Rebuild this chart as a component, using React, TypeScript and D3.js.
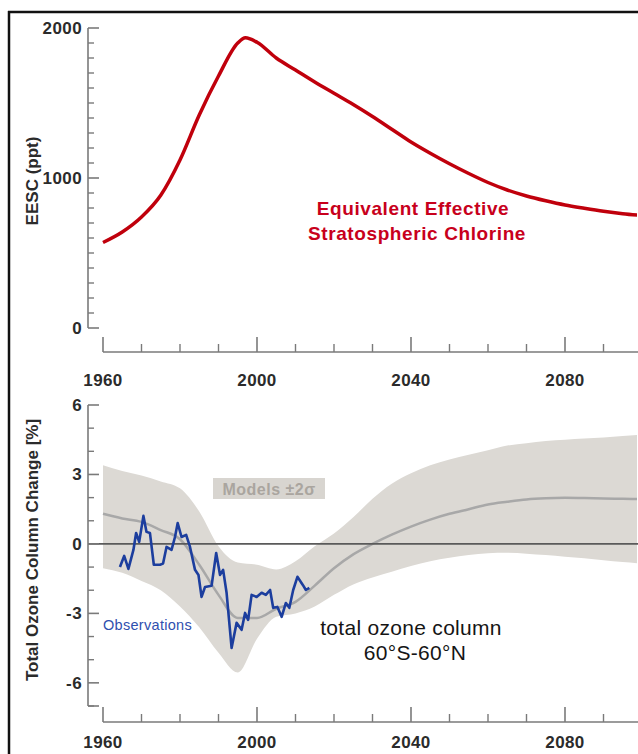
import * as d3 from "d3";

// EESC (ppt)
const eescYears = [1960, 1965, 1970, 1975, 1980, 1985, 1990, 1995, 1997, 2000, 2005, 2010, 2015, 2020, 2025, 2030, 2035, 2040, 2045, 2050, 2055, 2060, 2065, 2070, 2075, 2080, 2085, 2090, 2095, 2100];
const eescValues = [570, 640, 740, 885, 1120, 1420, 1680, 1900, 1935, 1905, 1800, 1720, 1640, 1565, 1490, 1410, 1325, 1240, 1165, 1095, 1030, 970, 920, 880, 848, 820, 798, 778, 762, 750];

// model mean and ±2σ envelope (%)
const modelYears = [1960, 1965, 1970, 1975, 1980, 1985, 1990, 1995, 2000, 2005, 2010, 2015, 2020, 2025, 2030, 2035, 2040, 2045, 2050, 2055, 2060, 2065, 2070, 2075, 2080, 2085, 2090, 2095, 2100];
const modelMean = [1.3, 1.1, 0.95, 0.6, 0.2, -0.9, -2.2, -3.2, -3.2, -2.8, -2.5, -1.8, -1.05, -0.45, 0.0, 0.4, 0.75, 1.05, 1.3, 1.5, 1.7, 1.82, 1.92, 1.97, 1.99, 1.98, 1.96, 1.95, 1.94];
const modelUpper = [3.4, 3.15, 2.95, 2.7, 2.4, 1.4, -0.1, -0.8, -0.9, -1.1, -0.75, -0.1, 0.45, 1.15, 1.95, 2.6, 3.05, 3.4, 3.65, 3.85, 4.05, 4.25, 4.35, 4.45, 4.5, 4.55, 4.6, 4.66, 4.72];
const modelLower = [-1.05, -1.25, -1.6, -2.0, -2.7, -3.6, -4.7, -5.55, -4.1, -3.15, -3.0, -2.7, -2.2, -1.75, -1.45, -1.2, -0.95, -0.75, -0.6, -0.48, -0.4, -0.38, -0.42, -0.48, -0.55, -0.62, -0.7, -0.78, -0.85];

// observations (%)
const obsYears = [1964.4, 1965.5, 1966.6, 1967.9, 1968.6, 1969.4, 1970.5, 1971.3, 1972.2, 1973.2, 1974.8, 1975.6, 1976.5, 1977.8, 1978.7, 1979.4, 1980.4, 1981.6, 1982.6, 1983.9, 1984.8, 1985.6, 1986.5, 1988.2, 1989.4, 1990.4, 1991.2, 1992.1, 1993.4, 1994.7, 1996.0, 1996.9, 1997.7, 1998.6, 1999.9, 2001.2, 2002.3, 2003.4, 2004.2, 2005.3, 2006.4, 2007.5, 2008.4, 2009.4, 2010.5, 2011.9, 2012.7, 2013.6];
const obsValues = [-1.0, -0.52, -1.08, -0.26, 0.47, 0.09, 1.21, 0.52, 0.47, -0.9, -0.9, -0.85, -0.13, -0.26, 0.3, 0.9, 0.3, 0.39, -0.13, -1.12, -1.34, -2.29, -1.86, -1.81, -0.39, -1.34, -1.12, -2.11, -4.49, -3.41, -3.71, -2.98, -3.28, -2.2, -2.29, -2.11, -2.2, -1.99, -2.76, -2.72, -3.15, -2.55, -2.76, -1.99, -1.42, -1.77, -1.99, -1.9];

const xTickLabels = [1960, 2000, 2040, 2080];
const eescTickLabels = [0, 1000, 2000];
const ozoneTickLabels = [-6, -3, 0, 3, 6];

const FONT = "'Liberation Sans', Arial, sans-serif";
const AXIS = "#7a7a7a";
const LABEL = "#2b2b2b";
const CLIP_RIGHT = 637;

const x = d3.scaleLinear().domain([1960, 2100]).range([103, 642]);
const yTop = d3.scaleLinear().domain([0, 2000]).range([328, 28]);
const yBot = d3.scaleLinear().domain([-7, 6]).range([706, 405]);

function YAxis({ y, ticks, minor, labels }: { y: d3.ScaleLinear<number, number>; ticks: number[]; minor: number[]; labels: number[] }) {
  const ax = 88;
  const [d0, d1] = y.domain();
  return (
    <g>
      <line x1={ax} x2={ax} y1={y(d0)} y2={y(d1)} stroke={AXIS} strokeWidth={1.6} />
      {minor.map((v) => (
        <line key={"m" + v} x1={ax} x2={ax + 6} y1={y(v)} y2={y(v)} stroke={AXIS} strokeWidth={1.4} />
      ))}
      {ticks.map((v) => (
        <line key={"t" + v} x1={ax} x2={ax + 11} y1={y(v)} y2={y(v)} stroke={AXIS} strokeWidth={1.6} />
      ))}
      {labels.map((v) => (
        <text key={"l" + v} x={82} y={y(v)} dy="0.35em" textAnchor="end" fontFamily={FONT} fontWeight="bold" fontSize={17} fill={LABEL} letterSpacing={0.4}>
          {v}
        </text>
      ))}
    </g>
  );
}

function XAxis({ yPos, labelOffset }: { yPos: number; labelOffset: number }) {
  const minor = d3.range(1970, 2100, 10).filter((v) => !xTickLabels.includes(v));
  return (
    <g>
      <line x1={x(1960)} x2={638} y1={yPos} y2={yPos} stroke={AXIS} strokeWidth={1.6} />
      {minor.map((v) => (
        <line key={"m" + v} x1={x(v)} x2={x(v)} y1={yPos} y2={yPos - 8} stroke={AXIS} strokeWidth={1.4} />
      ))}
      {xTickLabels.map((v) => (
        <line key={"t" + v} x1={x(v)} x2={x(v)} y1={yPos} y2={yPos - 15} stroke={AXIS} strokeWidth={1.6} />
      ))}
      {xTickLabels.map((v) => (
        <text key={"l" + v} x={x(v)} y={yPos + labelOffset} dy="0.35em" textAnchor="middle" fontFamily={FONT} fontWeight="bold" fontSize={17} fill={LABEL} letterSpacing={0.4}>
          {v}
        </text>
      ))}
    </g>
  );
}

export default function App() {
  const eescLine = d3.line<number>().x((_, i) => x(eescYears[i])).y((d) => yTop(d)).curve(d3.curveMonotoneX)(eescValues) ?? "";
  const bandPath = d3
    .area<number>()
    .x((_, i) => x(modelYears[i]))
    .y0((_, i) => yBot(modelLower[i]))
    .y1((d) => yBot(d))
    .curve(d3.curveMonotoneX)(modelUpper) ?? "";
  const meanLine = d3.line<number>().x((_, i) => x(modelYears[i])).y((d) => yBot(d)).curve(d3.curveMonotoneX)(modelMean) ?? "";
  const obsLine = d3.line<number>().x((_, i) => x(obsYears[i])).y((d) => yBot(d))(obsValues) ?? "";

  return (
    <div style={{ position: "absolute", left: 0, top: 0 }}>
      <svg width={638} height={754} style={{ display: "block", background: "#fff" }}>
        <defs>
          <clipPath id="plotClip">
            <rect x={88} y={0} width={CLIP_RIGHT - 88} height={754} />
          </clipPath>
        </defs>

        {/* frame */}
        <line x1={8} x2={638} y1={12} y2={12} stroke="#111" strokeWidth={2.5} />
        <line x1={9} x2={9} y1={11} y2={754} stroke="#111" strokeWidth={2.5} />

        {/* upper panel: EESC */}
        <YAxis
          y={yTop}
          ticks={[0, 1000, 2000]}
          minor={d3.range(100, 2000, 100).filter((v) => v !== 1000)}
          labels={eescTickLabels}
        />
        <XAxis yPos={352} labelOffset={28} />
        <g clipPath="url(#plotClip)">
          <path d={eescLine} fill="none" stroke="#c0000c" strokeWidth={3.5} strokeLinejoin="round" />
        </g>
        <text x={413} y={215} textAnchor="middle" fontFamily={FONT} fontWeight="bold" fontSize={19} fill="#c8001c" letterSpacing={0.6}>
          Equivalent Effective
        </text>
        <text x={417} y={240} textAnchor="middle" fontFamily={FONT} fontWeight="bold" fontSize={19} fill="#c8001c" letterSpacing={0.6}>
          Stratospheric Chlorine
        </text>
        <text transform="translate(38,181) rotate(-90)" textAnchor="middle" fontFamily={FONT} fontWeight="bold" fontSize={17} fill={LABEL}>
          EESC (ppt)
        </text>

        {/* lower panel: total ozone */}
        <g clipPath="url(#plotClip)">
          <path d={bandPath} fill="#dcd9d4" />
          <path d={meanLine} fill="none" stroke="#a8a8a8" strokeWidth={2.5} />
        </g>
        <line x1={88} x2={638} y1={yBot(0)} y2={yBot(0)} stroke="#5a5a5a" strokeWidth={1.6} />
        <path d={obsLine} fill="none" stroke="#1c3e9e" strokeWidth={2.6} strokeLinejoin="round" />
        <YAxis
          y={yBot}
          ticks={[-7, -6, -3, 0, 3, 6]}
          minor={d3.range(-7, 6, 1).filter((v) => !ozoneTickLabels.includes(v))}
          labels={ozoneTickLabels}
        />
        <XAxis yPos={722} labelOffset={20} />

        <rect x={213} y={478} width={112} height={21} fill="#d8d5d0" />
        <text x={269} y={489} dy="0.35em" textAnchor="middle" fontFamily={FONT} fontWeight="bold" fontSize={16} fill="#aaa59f" letterSpacing={0.5}>
          Models ±2σ
        </text>
        <text x={103} y={630} fontFamily={FONT} fontSize={14.5} fill="#2f4fae" letterSpacing={0.3}>
          Observations
        </text>
        <text x={411} y={635} textAnchor="middle" fontFamily={FONT} fontSize={21} fill="#151515" letterSpacing={0.3}>
          total ozone column
        </text>
        <text x={415} y={660} textAnchor="middle" fontFamily={FONT} fontSize={21} fill="#151515" letterSpacing={0.3}>
          60°S-60°N
        </text>
        <text transform="translate(38,550) rotate(-90)" textAnchor="middle" fontFamily={FONT} fontWeight="bold" fontSize={17} fill={LABEL}>
          Total Ozone Column Change [%]
        </text>
      </svg>
    </div>
  );
}
